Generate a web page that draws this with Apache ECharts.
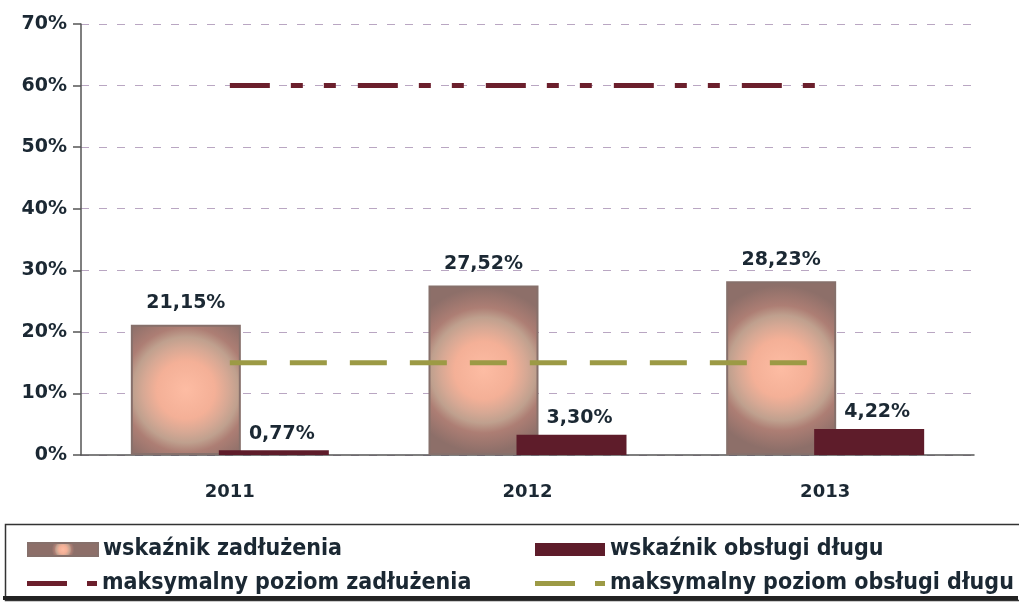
<!DOCTYPE html>
<html>
<head>
<meta charset="utf-8">
<script src="https://cdn.jsdelivr.net/npm/echarts@6/dist/echarts.min.js"></script>
<style>
  html, body { margin: 0; padding: 0; background: #fff; }
  #chart { width: 1019px; height: 604px; }
</style>
</head>
<body>
<div id="chart"></div>
<script>
var years = ['2011', '2012', '2013'];
var zadluzenie = [21.15, 27.52, 28.23];
var obslugaDlugu = [0.77, 3.30, 4.22];
var maxZadluzenia = [60, 60, 60];
var maxObslugi = [15, 15, 15];

var myChart = echarts.init(document.getElementById('chart'));

var font = 'DejaVu Sans, sans-serif';
var legendFont = 'DejaVu Sans Condensed, DejaVu Sans, sans-serif';
var textColor = '#1b2833';
var dashIcon = 'path://M0,0H40V5H0Z M60,0H70V5H60Z';

function pct(p) {
  return p.value.toFixed(2).replace('.', ',') + '%';
}

// one legend per entry so the two columns line up like the original
function legendItem(name, left, top, icon) {
  return {
    left: left,
    top: top,
    icon: icon,
    itemWidth: 70,
    itemHeight: icon === 'rect' ? 13 : 5,
    textStyle: { fontFamily: legendFont, fontSize: 23, fontWeight: 'bold', color: textColor },
    data: [name]
  };
}

var option = {
  animation: false,
  grid: { left: 81, right: 45, top: 24, bottom: 149 },
  legend: [
    legendItem('wskaźnik zadłużenia', 22, 533, 'rect'),
    legendItem('wskaźnik obsługi długu', 530, 533, 'rect'),
    legendItem('maksymalny poziom zadłużenia', 22, 567, dashIcon),
    legendItem('maksymalny poziom obsługi długu', 530, 567, dashIcon)
  ],
  xAxis: {
    type: 'category',
    data: years,
    axisLine: { lineStyle: { color: '#555', width: 1.5 } },
    axisTick: { length: 10, lineStyle: { color: '#555', width: 1.5 } },
    axisLabel: { margin: 28, fontFamily: font, fontSize: 18, fontWeight: 'bold', color: textColor }
  },
  yAxis: {
    type: 'value',
    min: 0,
    max: 70,
    interval: 10,
    axisLine: { show: true, lineStyle: { color: '#555', width: 1.5 } },
    axisTick: { show: true, length: 8, lineStyle: { color: '#555', width: 1.5 } },
    axisLabel: { margin: 14, fontFamily: font, fontSize: 19, fontWeight: 'bold', color: textColor, formatter: '{value}%' },
    splitLine: { lineStyle: { color: '#b9a6c2', type: [8, 10], width: 1 } }
  },
  series: [
    {
      name: 'wskaźnik zadłużenia',
      type: 'bar',
      data: zadluzenie,
      barWidth: 110,
      barGap: '-20%',
      z: 2,
      itemStyle: {
        borderColor: '#86706b',
        borderWidth: 2,
        color: new echarts.graphic.RadialGradient(0.5, 0.5, 0.75, [
          { offset: 0, color: '#fdbca3' },
          { offset: 0.35, color: '#f4b097' },
          { offset: 0.52, color: '#d6a894' },
          { offset: 0.64, color: '#bfa08e' },
          { offset: 0.76, color: '#ad7e74' },
          { offset: 1, color: '#8d6f69' }
        ])
      },
      label: { show: true, position: 'top', distance: 12, formatter: pct, fontFamily: font, fontSize: 19, fontWeight: 'bold', color: textColor }
    },
    {
      name: 'wskaźnik obsługi długu',
      type: 'bar',
      data: obslugaDlugu,
      barWidth: 110,
      z: 3,
      itemStyle: { color: '#5e1c2a' },
      label: { show: true, position: 'top', distance: 7, offset: [8, 0], formatter: pct, fontFamily: font, fontSize: 19, fontWeight: 'bold', color: textColor }
    },
    {
      name: 'maksymalny poziom zadłużenia',
      type: 'line',
      data: maxZadluzenia,
      symbol: 'none',
      z: 5,
      itemStyle: { color: '#6b1f2c' },
      lineStyle: { color: '#6b1f2c', width: 5, type: [40, 21, 12, 21, 12, 22] }
    },
    {
      name: 'maksymalny poziom obsługi długu',
      type: 'line',
      data: maxObslugi,
      symbol: 'none',
      z: 5,
      itemStyle: { color: '#9c9a45' },
      lineStyle: { color: '#9c9a45', width: 5, type: [37, 23] }
    }
  ],
  graphic: [
    {
      type: 'rect',
      left: 3, top: 522,
      shape: { width: 1015, height: 76 },
      style: { fill: 'none', stroke: '#333', lineWidth: 1.5 },
      z: -1
    },
    {
      type: 'rect',
      left: 3, top: 596,
      shape: { width: 1015, height: 4 },
      style: { fill: '#222' },
      z: -1
    }
  ]
};

myChart.setOption(option);
</script>
</body>
</html>
